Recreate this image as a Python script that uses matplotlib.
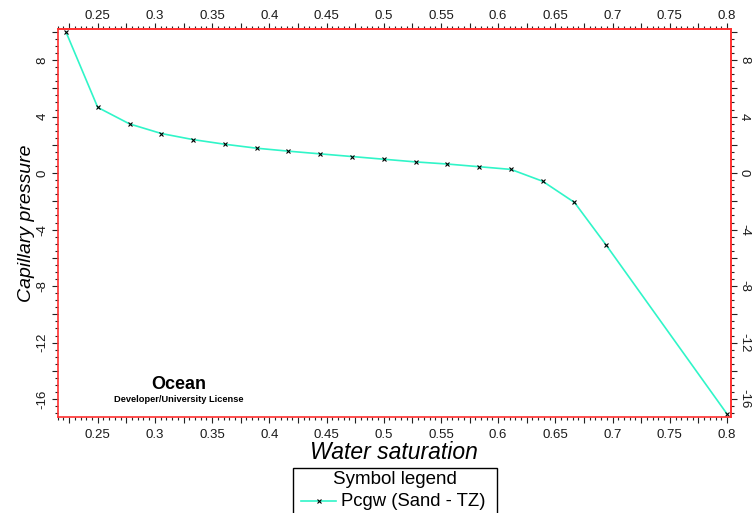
#Capillary pressure vs. water saturation curve (Sand - TZ)
import matplotlib
matplotlib.use("Agg")
import matplotlib.pyplot as plt
from matplotlib.patches import Rectangle
from matplotlib.lines import Line2D
from matplotlib.ticker import MultipleLocator, FuncFormatter

plt.rcParams['font.family'] = ['Liberation Sans', 'DejaVu Sans']

#water saturation and capillary pressure
water_saturation = [0.2222, 0.25, 0.2778, 0.3056, 0.3333, 0.3611, 0.3889, 0.4167, 0.4444,
                    0.4722, 0.5, 0.5278, 0.5556, 0.5833, 0.6111, 0.6389, 0.6667, 0.6944, 0.8]
capillary_pressure = [10.0, 4.65, 3.48, 2.8, 2.37, 2.04, 1.76, 1.55, 1.36,
                      1.17, 0.98, 0.79, 0.64, 0.45, 0.26, -0.58, -2.08, -5.1, -17.05]

series_label = "Pcgw (Sand - TZ)"
line_color = "#30f5c8"

W, H = 754, 513
fig = plt.figure(figsize=(W / 100, H / 100), dpi=100)
ax = fig.add_axes([0.0765, 0.1871, 0.893, 0.7564])

ax.plot(water_saturation, capillary_pressure, color=line_color, linewidth=1.2,
        marker="x", markersize=2.8, markeredgecolor="black", markeredgewidth=0.8)

ax.set_xlim(0.215, 0.8035)
ax.set_ylim(-17.27, 10.2)

#labels every 0.05 / every 4, majors every 0.025 / every 2
def xfmt(v, pos):
    if abs(round(v / 0.05) * 0.05 - v) < 1e-6:
        return "%g" % round(v, 3)
    return ""

def yfmt(v, pos):
    if abs(round(v) % 4) < 1e-6:
        return "%d" % round(v)
    return ""

def style_ticks(axis_obj, major, minor, fmt):
    axis_obj.set_major_locator(MultipleLocator(major))
    axis_obj.set_minor_locator(MultipleLocator(minor))
    axis_obj.set_major_formatter(FuncFormatter(fmt))

style_ticks(ax.xaxis, 0.025, 0.005, xfmt)
style_ticks(ax.yaxis, 2, 0.5, yfmt)

top = ax.secondary_xaxis("top")
right = ax.secondary_yaxis("right")
style_ticks(top.xaxis, 0.025, 0.005, xfmt)
style_ticks(right.yaxis, 2, 0.5, yfmt)

for a in (ax, top, right):
    a.tick_params(which="both", direction="out", color="#222222", width=0.8,
                  labelsize=9.5, labelcolor="#1a1a1a")
    a.tick_params(which="major", length=4.5)
    a.tick_params(which="minor", length=2.5)
    for spine in a.spines.values():
        spine.set_color("#ff3030")
        spine.set_linewidth(1.2)

ax.tick_params(axis="x", which="major", pad=4)
ax.tick_params(axis="y", which="major", pad=2, labelrotation=90)
top.tick_params(axis="x", which="major", pad=0.5)
right.tick_params(axis="y", which="major", pad=0.5, labelrotation=-90)
for lab in ax.get_yticklabels():
    lab.set_verticalalignment("center")
for lab in right.get_yticklabels():
    lab.set_verticalalignment("center")

ax.set_xlabel("Water saturation", fontsize=16.5, style="italic", labelpad=0)
ax.set_ylabel("Capillary pressure", fontsize=14, style="italic")
ax.yaxis.set_label_coords(-0.0337, 0.5)

#watermark text
ax.text(0.18, 0.085, "Ocean", transform=ax.transAxes, ha="center", va="center",
        fontsize=13, fontweight="bold")
ax.text(0.18, 0.046, "Developer/University License", transform=ax.transAxes,
        ha="center", va="center", fontsize=6.7, fontweight="bold")

#symbol legend box, cut by the bottom edge of the picture
def fx(px):
    return px / W

def fy(py):
    return 1 - py / H

fig.patches.append(Rectangle((fx(293), fy(525)), fx(497) - fx(293), fy(468) - fy(525),
                             transform=fig.transFigure, facecolor="white",
                             edgecolor="black", linewidth=1.0))
fig.text(fx(395), fy(479), "Symbol legend", ha="center", va="center", fontsize=13.5)
fig.lines.append(Line2D([fx(301), fx(336)], [fy(501), fy(501)], transform=fig.transFigure,
                        color=line_color, linewidth=1.2))
fig.lines.append(Line2D([fx(318.5)], [fy(501)], transform=fig.transFigure, marker="x",
                        markersize=2.8, markeredgecolor="black", markeredgewidth=0.8,
                        linestyle="none"))
fig.text(fx(341), fy(502), series_label, ha="left", va="center", fontsize=13.3)

plt.savefig("out.png", dpi=100)
